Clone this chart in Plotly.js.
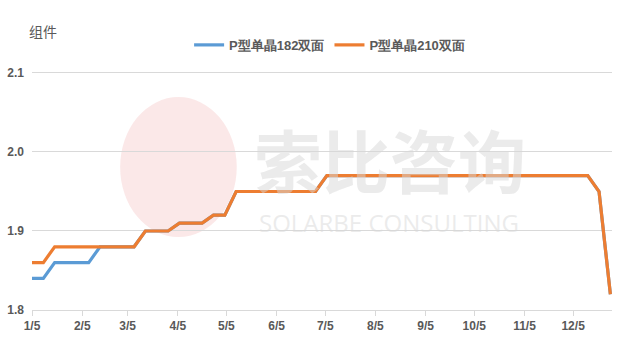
<!DOCTYPE html>
<html>
<head>
<meta charset="utf-8">
<script src="https://cdn.plot.ly/plotly-3.0.1.min.js"></script>
<style>html,body{margin:0;padding:0;background:#fff;}#chart{width:640px;height:343px;}</style>
</head>
<body>
<div id="chart"></div>
<script>
const dates = ["2022-01-05","2022-01-12","2022-01-19","2022-01-26","2022-02-02","2022-02-09","2022-02-16","2022-02-23","2022-03-02","2022-03-09","2022-03-16","2022-03-23","2022-03-30","2022-04-06","2022-04-13","2022-04-20","2022-04-27","2022-05-04","2022-05-11","2022-05-18","2022-05-25","2022-06-01","2022-06-08","2022-06-15","2022-06-22","2022-06-29","2022-07-06","2022-07-13","2022-07-20","2022-07-27","2022-08-03","2022-08-10","2022-08-17","2022-08-24","2022-08-31","2022-09-07","2022-09-14","2022-09-21","2022-09-28","2022-10-05","2022-10-12","2022-10-19","2022-10-26","2022-11-02","2022-11-09","2022-11-16","2022-11-23","2022-11-30","2022-12-07","2022-12-14","2022-12-21","2022-12-28"];
const seriesNames = ["P型单晶182双面","P型单晶210双面"];
const p182 = [1.84,1.84,1.86,1.86,1.86,1.86,1.88,1.88,1.88,1.88,1.90,1.90,1.90,1.91,1.91,1.91,1.92,1.92,1.95,1.95,1.95,1.95,1.95,1.95,1.95,1.95,1.97,1.97,1.97,1.97,1.97,1.97,1.97,1.97,1.97,1.97,1.97,1.97,1.97,1.97,1.97,1.97,1.97,1.97,1.97,1.97,1.97,1.97,1.97,1.97,1.95,1.82];
const p210 = [1.86,1.86,1.88,1.88,1.88,1.88,1.88,1.88,1.88,1.88,1.90,1.90,1.90,1.91,1.91,1.91,1.92,1.92,1.95,1.95,1.95,1.95,1.95,1.95,1.95,1.95,1.97,1.97,1.97,1.97,1.97,1.97,1.97,1.97,1.97,1.97,1.97,1.97,1.97,1.97,1.97,1.97,1.97,1.97,1.97,1.97,1.97,1.97,1.97,1.97,1.95,1.82];
const tickDates = ["2022-01-05","2022-02-05","2022-03-05","2022-04-05","2022-05-05","2022-06-05","2022-07-05","2022-08-05","2022-09-05","2022-10-05","2022-11-05","2022-12-05"];
const tickLabels = ["1/5","2/5","3/5","4/5","5/5","6/5","7/5","8/5","9/5","10/5","11/5","12/5"];
const yTicks = [1.8,1.9,2.0,2.1];
const yLabels = ["1.8","1.9","2.0","2.1"];
const unitLabel = "组件";

const font = "'Liberation Sans Narrow','Liberation Sans',Arial,sans-serif";
const traces = [
  {x: dates, y: p182, name: seriesNames[0], type: "scatter", mode: "lines",
   line: {color: "#5B9BD5", width: 3.2}, cliponaxis: false},
  {x: dates, y: p210, name: seriesNames[1], type: "scatter", mode: "lines",
   line: {color: "#ED7D31", width: 3.2}, cliponaxis: false}
];
const layout = {
  width: 640, height: 343,
  margin: {l: 32, r: 28, t: 71, b: 33, autoexpand: false},
  paper_bgcolor: "#fff", plot_bgcolor: "rgba(0,0,0,0)",
  font: {family: font, color: "#595959", size: 12},
  showlegend: true,
  legend: {orientation: "h", x: 0.515, xanchor: "center", xref: "container",
           y: 0.869, yanchor: "middle", yref: "container",
           font: {family: font, size: 13, color: "#595959", weight: "bold"},
           itemwidth: 30, tracegroupgap: 0},
  xaxis: {type: "date", range: ["2022-01-05","2022-12-29"],
          tickvals: tickDates, ticktext: tickLabels,
          showgrid: false, zeroline: false,
          showline: true, linecolor: "#d9d9d9", linewidth: 1,
          ticks: "outside", ticklen: 5, tickcolor: "#d9d9d9",
          tickfont: {family: font, size: 12, color: "#595959", weight: "bold"}},
  yaxis: {range: [1.8, 2.1025], tickvals: yTicks, ticktext: yLabels,
          showgrid: true, gridcolor: "#d9d9d9", gridwidth: 1,
          zeroline: false, showline: false, ticks: "", ticklabelstandoff: 7,
          tickfont: {family: font, size: 12, color: "#595959", weight: "bold"}},
  shapes: [
    {type: "circle", xref: "paper", yref: "paper", layer: "below",
     x0: 0.152, x1: 0.353, y0: 0.305, y1: 0.891,
     fillcolor: "rgba(246,205,205,0.45)", line: {width: 0}}
  ],
  annotations: [
    {text: unitLabel, xref: "paper", yref: "paper", x: -0.008, y: 1.167, xanchor: "left", yanchor: "middle",
     showarrow: false, font: {family: "'Noto Sans CJK SC',sans-serif", size: 14, color: "#595959"}},
    {text: "索比咨询", xref: "paper", yref: "paper", x: 0.617, y: 0.632, xanchor: "center", yanchor: "middle",
     showarrow: false, font: {family: "'Noto Sans CJK SC',sans-serif", size: 68, color: "rgba(215,215,215,0.5)", weight: "bold"}},
    {text: "SOLARBE CONSULTING", xref: "paper", yref: "paper", x: 0.616, y: 0.367, xanchor: "center", yanchor: "middle",
     showarrow: false, font: {family: "'Open Sans',sans-serif", size: 24, color: "rgba(215,215,215,0.5)"}}
  ]
};
Plotly.newPlot("chart", traces, layout, {displayModeBar: false, staticPlot: true});
</script>
</body>
</html>
